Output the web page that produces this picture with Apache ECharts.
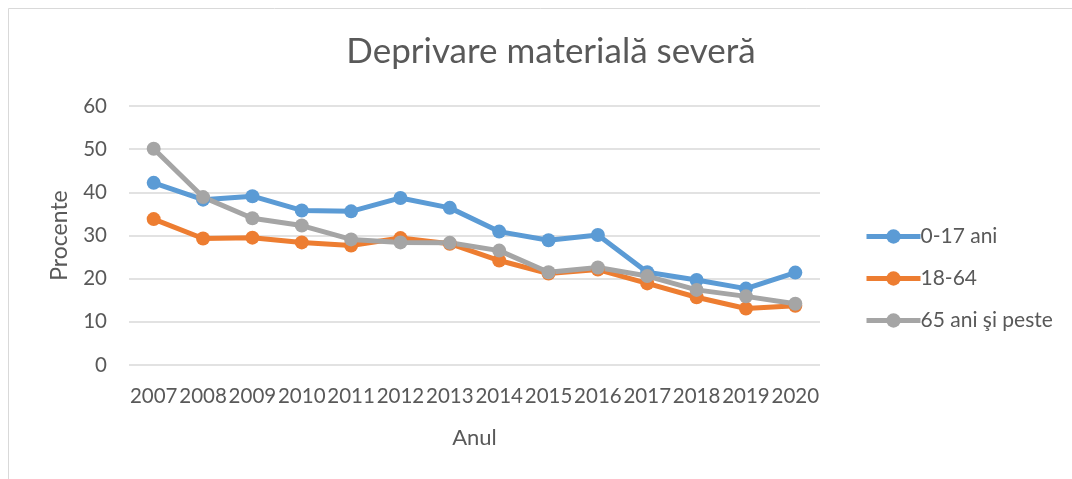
<!DOCTYPE html>
<html><head><meta charset="utf-8">
<script src="https://cdn.jsdelivr.net/npm/echarts@6/dist/echarts.min.js"></script>
<style>html,body{margin:0;padding:0;background:#fff}#c{width:1072px;height:479px}</style>
</head><body><div id="c"></div>
<script>
const categories = ['2007','2008','2009','2010','2011','2012','2013','2014','2015','2016','2017','2018','2019','2020'];
const kids = [42.2,38.3,39.1,35.8,35.6,38.7,36.4,30.9,28.9,30.1,21.5,19.7,17.7,21.4];
const adults = [33.8,29.3,29.5,28.4,27.7,29.4,28.1,24.2,21.2,22.1,18.9,15.7,13.1,13.7];
const seniors = [50.1,38.9,34.0,32.3,29.1,28.4,28.3,26.5,21.5,22.6,20.6,17.4,15.9,14.2];
const seriesNames = ['0-17 ani','18-64','65 ani şi peste'];
const yTicks = [0,10,20,30,40,50,60];
const FONT = 'Lato, "Open Sans", sans-serif';
const TXT = '#595959';
const chart = echarts.init(document.getElementById('c'));
const mk = (name, data, color) => ({
  name, type:'line', data, color,
  symbol:'circle', symbolSize:14,
  lineStyle:{width:5, color},
  itemStyle:{color},
  emphasis:{disabled:true}
});
chart.setOption({
  animation:false,
  backgroundColor:'#fff',
  graphic:[{type:'rect', shape:{x:8.5,y:8.5,width:1200,height:600}, style:{fill:'none',stroke:'#d9d9d9',lineWidth:1}}],
  title:{text:'Deprivare materială severă', left:546, top:29, textAlign:'center',
    textStyle:{fontFamily:FONT, fontSize:35, fontWeight:'normal', color:TXT}},
  grid:{left:129, right:252, top:106, bottom:114, containLabel:false},
  legend:{orient:'vertical', left:859, top:221, itemWidth:54, itemHeight:18, itemGap:21,
    data:seriesNames, lineStyle:{width:5},
    textStyle:{fontFamily:FONT, fontSize:21, color:TXT, padding:[0,0,0,-5]}},
  xAxis:{type:'category', data:categories, boundaryGap:true,
    name:'Anul', nameLocation:'middle', nameGap:62,
    nameTextStyle:{fontFamily:FONT, fontSize:22, color:TXT},
    axisLine:{show:false}, axisTick:{show:false},
    axisLabel:{fontFamily:FONT, fontSize:20.5, color:TXT, margin:21, interval:0}},
  yAxis:{type:'value', min:yTicks[0], max:yTicks[yTicks.length-1], interval:10,
    name:'Procente', nameLocation:'middle', nameGap:58, nameRotate:90,
    nameTextStyle:{fontFamily:FONT, fontSize:23, color:TXT},
    axisLine:{show:false}, axisTick:{show:false},
    axisLabel:{fontFamily:FONT, fontSize:20.5, color:TXT, margin:22},
    splitLine:{lineStyle:{color:'#d9d9d9', width:1.5}}},
  series:[mk(seriesNames[0],kids,'#5b9bd5'), mk(seriesNames[1],adults,'#ed7d31'), mk(seriesNames[2],seniors,'#a5a5a5')]
});
</script></body></html>
